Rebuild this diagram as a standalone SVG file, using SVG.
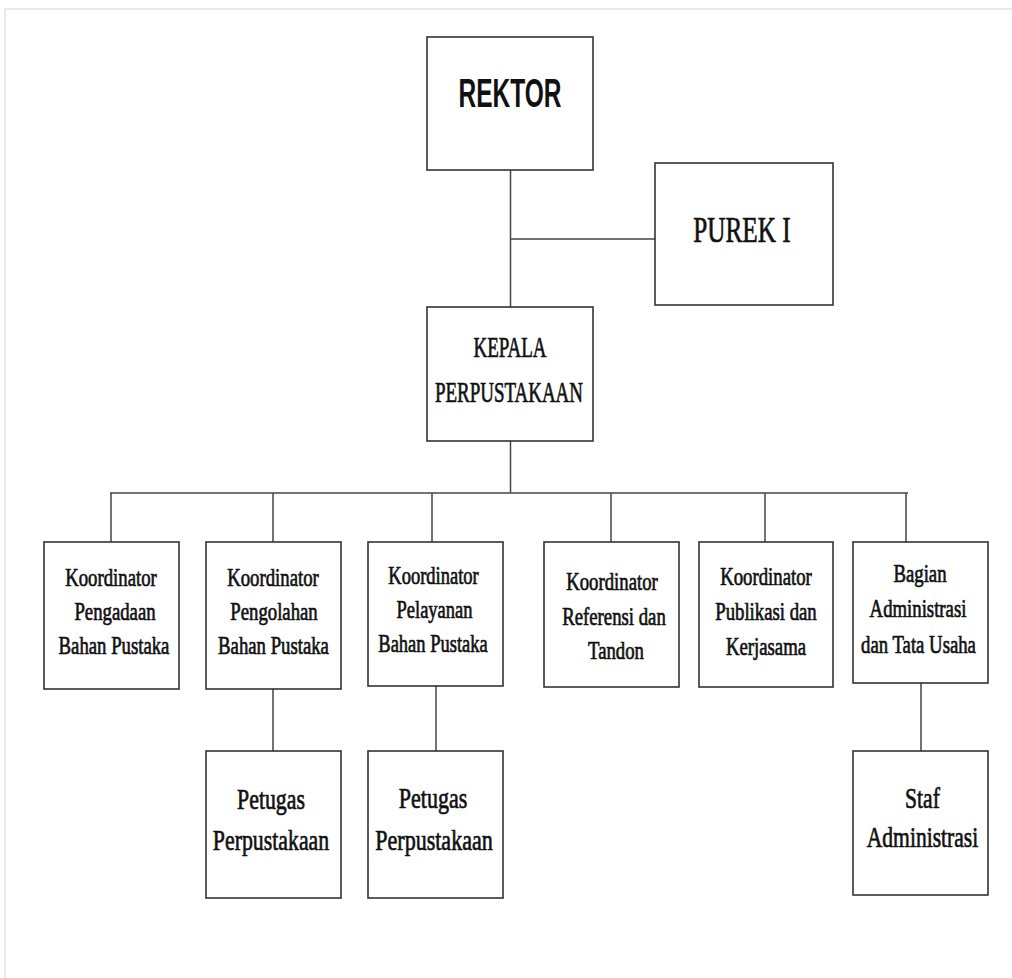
<svg xmlns="http://www.w3.org/2000/svg" width="1012" height="978" viewBox="0 0 1012 978">
<style>
.box{fill:#fff;stroke:#333;stroke-width:1.6}
.ln{stroke:#444;stroke-width:1.5;fill:none}
.t{font-family:"Liberation Serif","Times New Roman",serif;font-size:25px;fill:#111;stroke:#111;stroke-width:0.7;text-anchor:middle}
.big{font-family:"Liberation Serif","Times New Roman",serif;font-size:30px;fill:#111;stroke:#111;stroke-width:0.7;text-anchor:middle}
.s{font-family:"Liberation Sans",Arial,sans-serif;font-weight:bold;font-size:40px;fill:#111;text-anchor:middle}
</style>
<rect width="1012" height="978" fill="#fff"/>
<path d="M5 978 V9 H1012" fill="none" stroke="#d4d4d4" stroke-width="1"/>
<g id="connectors">
<path class="ln" d="M510.5 170 V307"/>
<path class="ln" d="M510.5 239 H655"/>
<path class="ln" d="M510.5 441 V493"/>
<path class="ln" d="M110 493 H908"/>
<path class="ln" d="M111 493 V542"/>
<path class="ln" d="M273 493 V542"/>
<path class="ln" d="M432 493 V542"/>
<path class="ln" d="M611 493 V542"/>
<path class="ln" d="M765 493 V542"/>
<path class="ln" d="M906 493 V542"/>
<path class="ln" d="M273 689 V751"/>
<path class="ln" d="M436 686 V751"/>
<path class="ln" d="M921 683 V751"/>
</g>
<g id="rektor">
<rect class="box" x="427" y="37" width="166" height="133"/>
<text class="s" x="510" y="107" textLength="103" lengthAdjust="spacingAndGlyphs">REKTOR</text>
</g>
<g id="purek">
<rect class="box" x="655" y="163" width="178" height="142"/>
<text class="t" style="font-size:35px" transform="translate(742,242) scale(0.72,1)">PUREK I</text>
</g>
<g id="kepala">
<rect class="box" x="427" y="307" width="166" height="134"/>
<text class="big" x="510" y="357" textLength="73" lengthAdjust="spacingAndGlyphs">KEPALA</text>
<text class="big" x="509" y="402" textLength="148" lengthAdjust="spacingAndGlyphs">PERPUSTAKAAN</text>
</g>
<g id="pengadaan">
<rect class="box" x="44" y="542" width="135" height="147"/>
<text class="t" transform="translate(111,586) scale(0.75,1)">Koordinator</text>
<text class="t" transform="translate(115,620) scale(0.75,1)">Pengadaan</text>
<text class="t" transform="translate(114,654) scale(0.75,1)">Bahan Pustaka</text>
</g>
<g id="pengolahan">
<rect class="box" x="206" y="542" width="135" height="147"/>
<text class="t" transform="translate(273,586) scale(0.75,1)">Koordinator</text>
<text class="t" transform="translate(274,620) scale(0.75,1)">Pengolahan</text>
<text class="t" transform="translate(273.5,654) scale(0.75,1)">Bahan Pustaka</text>
</g>
<g id="pelayanan">
<rect class="box" x="368" y="542" width="135" height="144"/>
<text class="t" transform="translate(433.5,584) scale(0.74,1)">Koordinator</text>
<text class="t" transform="translate(434.5,618) scale(0.74,1)">Pelayanan</text>
<text class="t" transform="translate(433,652) scale(0.74,1)">Bahan Pustaka</text>
</g>
<g id="referensi">
<rect class="box" x="544" y="542" width="135" height="145"/>
<text class="t" transform="translate(612,590) scale(0.75,1)">Koordinator</text>
<text class="t" transform="translate(614,625) scale(0.75,1)">Referensi dan</text>
<text class="t" transform="translate(616,659) scale(0.75,1)">Tandon</text>
</g>
<g id="publikasi">
<rect class="box" x="699" y="542" width="134" height="145"/>
<text class="t" transform="translate(766,585) scale(0.75,1)">Koordinator</text>
<text class="t" transform="translate(766,620) scale(0.75,1)">Publikasi dan</text>
<text class="t" transform="translate(766,655) scale(0.75,1)">Kerjasama</text>
</g>
<g id="administrasi">
<rect class="box" x="853" y="542" width="135" height="141"/>
<text class="t" transform="translate(920,582) scale(0.75,1)">Bagian</text>
<text class="t" transform="translate(918,617) scale(0.75,1)">Administrasi</text>
<text class="t" transform="translate(918.5,653) scale(0.75,1)">dan Tata Usaha</text>
</g>
<g id="petugas1">
<rect class="box" x="206" y="751" width="135" height="147"/>
<text class="big" transform="translate(271,809) scale(0.728,1)">Petugas</text>
<text class="big" transform="translate(271,850) scale(0.728,1)">Perpustakaan</text>
</g>
<g id="petugas2">
<rect class="box" x="368" y="751" width="135" height="147"/>
<text class="big" transform="translate(433,808) scale(0.735,1)">Petugas</text>
<text class="big" transform="translate(434,850) scale(0.735,1)">Perpustakaan</text>
</g>
<g id="staf">
<rect class="box" x="853" y="751" width="135" height="144"/>
<text class="big" transform="translate(922.5,808) scale(0.72,1)">Staf</text>
<text class="big" transform="translate(922.5,847) scale(0.72,1)">Administrasi</text>
</g>
</svg>
